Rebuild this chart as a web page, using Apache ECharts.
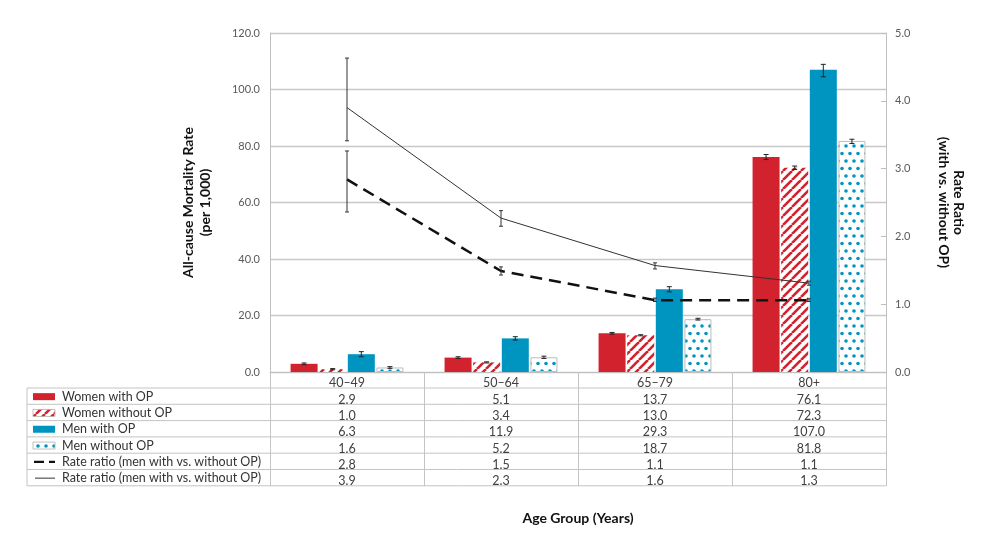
<!DOCTYPE html>
<html><head><meta charset="utf-8">
<script src="https://cdn.jsdelivr.net/npm/echarts@6/dist/echarts.min.js"></script>
<style>html,body{margin:0;padding:0;background:#fff}#c{width:1000px;height:554px}</style>
</head><body><div id="c"></div>
<script>
// ---------- data ----------
const categories = ['40–49', '50–64', '65–79', '80+'];
const womenWithOP = [2.9, 5.1, 13.7, 76.1];
const womenWithoutOP = [1.0, 3.4, 13.0, 72.3];
const menWithOP = [6.3, 11.9, 29.3, 107.0];
const menWithoutOP = [1.6, 5.2, 18.7, 81.8];
const womenWithOPCI = [[2.6, 3.2], [4.8, 5.4], [13.4, 14.0], [75.2, 77.0]];
const womenWithoutOPCI = [[0.8, 1.2], [3.2, 3.6], [12.8, 13.2], [71.7, 72.9]];
const menWithOPCI = [[5.4, 7.2], [11.3, 12.5], [28.4, 30.2], [104.5, 108.9]];
const menWithoutOPCI = [[1.3, 1.9], [4.8, 5.6], [18.4, 19.0], [80.9, 82.4]];
const ratioDashed = [2.84, 1.49, 1.06, 1.06];
const ratioSolid = [3.9, 2.27, 1.57, 1.31];
const ratioDashedCI = [[2.36, 3.26], [1.43, 1.55], [1.04, 1.09], [1.04, 1.08]];
const ratioSolidCI = [[3.41, 4.63], [2.15, 2.38], [1.52, 1.61], [1.28, 1.34]];
const seriesNames = ['Women with OP', 'Women without OP', 'Men with OP', 'Men without OP',
  'Rate ratio (men with vs. without OP)', 'Rate ratio (men with vs. without OP)'];
const leftTicks = [0, 20, 40, 60, 80, 100, 120];
const rightTicks = [0, 1, 2, 3, 4, 5];

// ---------- styling ----------
const FONT = 'Lato, "Open Sans", sans-serif';
const RED = '#d2222d';
const BLUE = '#0094c0';
const GRID = { left: 270, right: 114, top: 33, bottom: 182 };
const BAR_W = 27, BAR_GAP_PCT = 6;
const GAP_PX = BAR_W * BAR_GAP_PCT / 100;
const ROW_H = 16.3, TABLE_TOP = 388, TABLE_LEFT = 27, TABLE_RIGHT = 1000 - GRID.right;

function hatchPattern(size) {
  const c = document.createElement('canvas');
  c.width = size; c.height = size;
  const g = c.getContext('2d');
  g.fillStyle = '#fff'; g.fillRect(0, 0, size, size);
  g.strokeStyle = RED; g.lineWidth = 2.6;
  for (const o of [-size, 0, size]) {
    g.beginPath(); g.moveTo(o, size); g.lineTo(o + size, 0); g.stroke();
  }
  return c;
}
function dotPattern() {
  const c = document.createElement('canvas');
  c.width = 8; c.height = 15;
  const g = c.getContext('2d');
  g.fillStyle = '#fff'; g.fillRect(0, 0, 8, 15);
  g.fillStyle = BLUE;
  g.beginPath(); g.arc(2, 3.5, 1.8, 0, Math.PI * 2); g.fill();
  g.beginPath(); g.arc(6, 11, 1.8, 0, Math.PI * 2); g.fill();
  return c;
}
const hatch = { image: hatchPattern(9), repeat: 'repeat' };
const dots = { image: dotPattern(), repeat: 'repeat' };

function errSeries(ci, idx, yAxisIndex, capW, color) {
  return {
    type: 'custom', xAxisIndex: 0, yAxisIndex: yAxisIndex, z: 10, silent: true,
    data: ci.map((c, i) => [i, c[0], c[1]]),
    encode: { x: 0, y: [1, 2] },
    renderItem: function (params, api) {
      const x = api.value(0);
      const lo = api.coord([x, api.value(1)]);
      const hi = api.coord([x, api.value(2)]);
      const off = idx === null ? 0 : (idx - 1.5) * (BAR_W + GAP_PX);
      const cx = lo[0] + off;
      const st = { stroke: color, lineWidth: 1 };
      return {
        type: 'group', children: [
          { type: 'line', shape: { x1: cx, y1: lo[1], x2: cx, y2: hi[1] }, style: st },
          { type: 'line', shape: { x1: cx - capW / 2, y1: lo[1], x2: cx + capW / 2, y2: lo[1] }, style: st },
          { type: 'line', shape: { x1: cx - capW / 2, y1: hi[1], x2: cx + capW / 2, y2: hi[1] }, style: st }
        ]
      };
    }
  };
}

// table rows
const rowValues = [womenWithOP, womenWithoutOP, menWithOP, menWithoutOP, ratioDashed, ratioSolid];
const rowLabels = rowValues.map(arr => arr.map(v => v.toFixed(1)));

const labelStyle = { color: '#404040', fontSize: 12.5, fontFamily: FONT };
const xAxes = [{
  type: 'category', data: categories, gridIndex: 0,
  axisLine: { lineStyle: { color: '#bfbfbf', width: 1 } },
  axisTick: { show: true, length: 114, lineStyle: { color: '#c4c4c4' } },
  axisLabel: Object.assign({ margin: 4, interval: 0 }, labelStyle),
  splitLine: { show: false }
}];
rowLabels.forEach((labels, k) => {
  xAxes.push({
    type: 'category', data: labels, gridIndex: 0, position: 'bottom',
    offset: ROW_H * (k + 1),
    axisLine: { show: false }, axisTick: { show: false }, splitLine: { show: false },
    axisLabel: Object.assign({ margin: 5, interval: 0 }, labelStyle)
  });
});

// graphics: table lines, legend swatches, titles
const graphics = [];
for (let k = 0; k <= 6; k++) {
  const y = TABLE_TOP + ROW_H * k;
  graphics.push({ type: 'line', shape: { x1: TABLE_LEFT, y1: y, x2: TABLE_RIGHT, y2: y },
    style: { stroke: '#c4c4c4', lineWidth: 1 }, silent: true });
}
graphics.push({ type: 'line', shape: { x1: TABLE_LEFT, y1: TABLE_TOP, x2: TABLE_LEFT, y2: TABLE_TOP + ROW_H * 6 },
  style: { stroke: '#c4c4c4', lineWidth: 1 }, silent: true });
const swatchFills = [RED, hatch, BLUE, dots];
seriesNames.forEach((name, k) => {
  const cy = TABLE_TOP + ROW_H * (k + 0.5) + 0.5;
  if (k < 4) {
    graphics.push({ type: 'rect', shape: { x: 33, y: cy - 3.5, width: 22, height: 7 },
      style: { fill: swatchFills[k], stroke: k === 1 || k === 3 ? '#b0b0b0' : null, lineWidth: 0.8 }, silent: true });
  } else if (k === 4) {
    graphics.push({ type: 'line', shape: { x1: 34, y1: cy, x2: 55, y2: cy },
      style: { stroke: '#111', lineWidth: 2.4, lineDash: [10, 5] }, silent: true });
  } else {
    graphics.push({ type: 'line', shape: { x1: 35, y1: cy, x2: 55, y2: cy },
      style: { stroke: '#333', lineWidth: 1 }, silent: true });
  }
  graphics.push({ type: 'text', x: 62, y: cy, silent: true,
    style: { text: name, fill: '#333', fontSize: 12.5, fontFamily: FONT, verticalAlign: 'middle', textAlign: 'left' } });
});
const plotMidY = GRID.top + (554 - GRID.top - GRID.bottom) / 2;
graphics.push({ type: 'text', x: 197, y: plotMidY, rotation: Math.PI / 2, silent: true,
  style: { text: 'All-cause Mortality Rate\n(per 1,000)', fill: '#111', fontSize: 14, fontWeight: 'bold',
    fontFamily: FONT, textAlign: 'center', verticalAlign: 'middle', lineHeight: 17 } });
graphics.push({ type: 'text', x: 951, y: plotMidY, rotation: -Math.PI / 2, silent: true,
  style: { text: 'Rate Ratio\n(with vs. without OP)', fill: '#111', fontSize: 14, fontWeight: 'bold',
    fontFamily: FONT, textAlign: 'center', verticalAlign: 'middle', lineHeight: 15 } });
graphics.push({ type: 'text', x: GRID.left + (1000 - GRID.left - GRID.right) / 2, y: 518, silent: true,
  style: { text: 'Age Group (Years)', fill: '#111', fontSize: 14, fontWeight: 'bold',
    fontFamily: FONT, textAlign: 'center', verticalAlign: 'middle' } });

const barBase = { type: 'bar', xAxisIndex: 0, yAxisIndex: 0, barWidth: BAR_W, barGap: BAR_GAP_PCT + '%' };

const option = {
  animation: false,
  backgroundColor: '#fff',
  textStyle: { fontFamily: FONT },
  grid: GRID,
  xAxis: xAxes,
  yAxis: [{
    type: 'value', min: leftTicks[0], max: leftTicks[leftTicks.length - 1], interval: 20,
    axisLine: { show: true, lineStyle: { color: '#bfbfbf' } },
    axisTick: { show: false },
    axisLabel: { color: '#595959', fontSize: 11, fontFamily: FONT, margin: 10, formatter: v => v.toFixed(1) },
    splitLine: { lineStyle: { color: '#c8c8c8', width: 1.3 } }
  }, {
    type: 'value', position: 'right', min: rightTicks[0], max: rightTicks[rightTicks.length - 1], interval: 1,
    axisLine: { show: true, lineStyle: { color: '#bfbfbf' } },
    axisTick: { show: true, inside: true, length: 5, lineStyle: { color: '#bfbfbf' } },
    axisLabel: { color: '#595959', fontSize: 11, fontFamily: FONT, margin: 9, formatter: v => v.toFixed(1) },
    splitLine: { show: false }
  }],
  graphic: graphics,
  series: [
    Object.assign({ name: seriesNames[0], data: womenWithOP, itemStyle: { color: RED } }, barBase),
    Object.assign({ name: seriesNames[1], data: womenWithoutOP, itemStyle: { color: hatch } }, barBase),
    Object.assign({ name: seriesNames[2], data: menWithOP, itemStyle: { color: BLUE } }, barBase),
    Object.assign({ name: seriesNames[3], data: menWithoutOP, itemStyle: { color: dots, borderColor: '#bdbdbd', borderWidth: 1 } }, barBase),
    { name: seriesNames[4], type: 'line', xAxisIndex: 0, yAxisIndex: 1, data: ratioDashed, symbol: 'none', z: 5,
      lineStyle: { color: '#111', width: 2.5, type: [12, 7] } },
    { name: seriesNames[5], type: 'line', xAxisIndex: 0, yAxisIndex: 1, data: ratioSolid, symbol: 'none', z: 5,
      lineStyle: { color: '#333', width: 1 } },
    errSeries(womenWithOPCI, 0, 0, 5, '#222'),
    errSeries(womenWithoutOPCI, 1, 0, 5, '#222'),
    errSeries(menWithOPCI, 2, 0, 5, '#222'),
    errSeries(menWithoutOPCI, 3, 0, 5, '#222'),
    errSeries(ratioDashedCI, null, 1, 4, '#333'),
    errSeries(ratioSolidCI, null, 1, 4, '#333')
  ]
};
const chart = echarts.init(document.getElementById('c'));
chart.setOption(option);
</script></body></html>
